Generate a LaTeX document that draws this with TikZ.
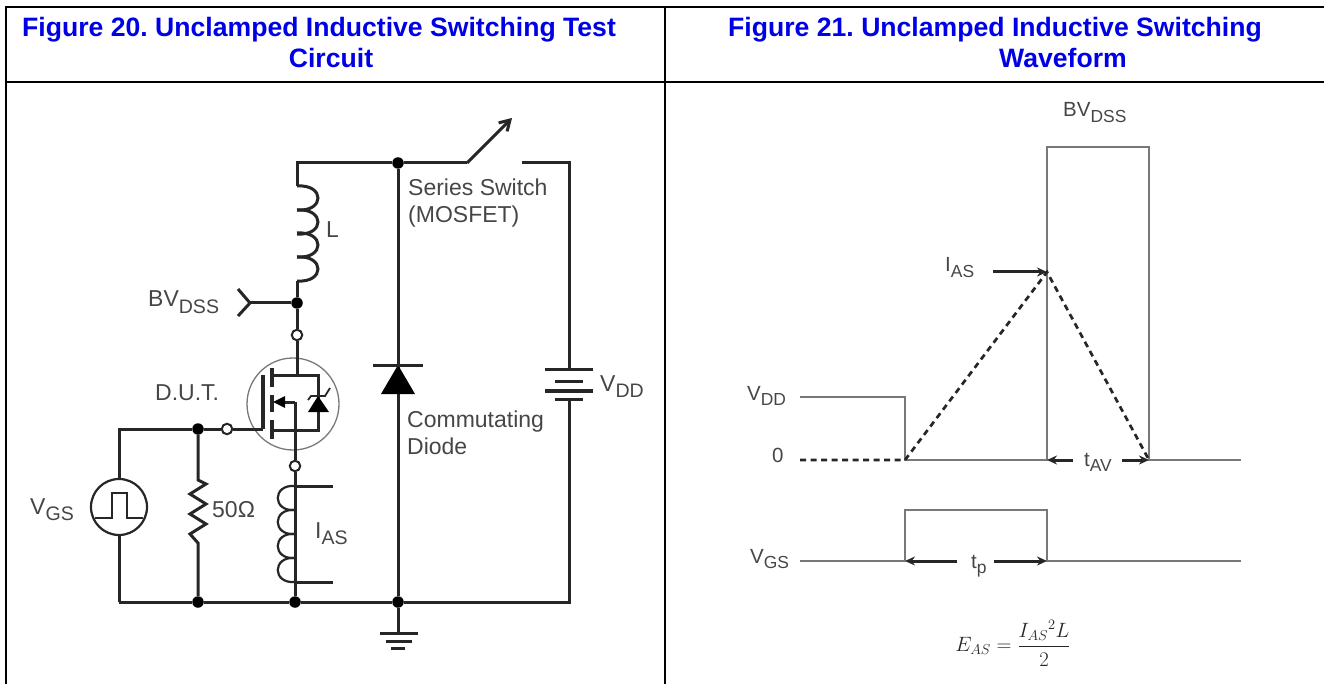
\documentclass[tikz,border=0pt]{standalone}
\usepackage{fontspec}
\setmainfont{Liberation Sans}
\usetikzlibrary{arrows.meta}
\frenchspacing
\definecolor{titleblue}{RGB}{0,0,230}
\definecolor{labelgray}{RGB}{70,70,70}
\definecolor{tracegray}{RGB}{120,120,120}
\newcommand{\lowtext}[2]{#1\raisebox{-0.28em}{\fontsize{0.85em}{1em}\selectfont #2}}
\tikzset{
	frameline/.style={line width=2.4pt, black},
	wire/.style={line width=3pt, black!85},
	trace/.style={line width=1.7pt, tracegray},
	dashtrace/.style={line width=2.7pt, black!85, dash pattern=on 6pt off 4.5pt},
	dimarrow/.style={line width=3pt, black!85, -{Stealth[length=10pt, width=9pt]}},
	junction/.style={circle, fill=black, inner sep=0pt, minimum size=11.5pt},
	openpin/.style={circle, draw=black!85, line width=2pt, fill=white, inner sep=0pt, minimum size=10.5pt},
	heading/.style={font=\bfseries\fontsize{26.6}{29}\selectfont, text=titleblue, anchor=base, inner sep=0pt},
	label/.style={font=\fontsize{23}{25}\selectfont, text=labelgray, anchor=base west, inner sep=0pt},
	wavelabel/.style={font=\fontsize{20.5}{22}\selectfont, text=labelgray, anchor=base west, inner sep=0pt}
}
\begin{document}
\begin{tikzpicture}[x=1pt, y=-1pt]
	\useasboundingbox (0,0) rectangle (1324,684);

	% Table frame
	\coordinate (frameTL) at (6,7);
	\coordinate (frameTR) at (1324,7);
	\coordinate (frameBL) at (6,684);
	\coordinate (rowL) at (6,82);
	\coordinate (rowR) at (1324,82);
	\coordinate (midT) at (665,7);
	\coordinate (midB) at (665,684);
	\draw[frameline] (frameBL) -- (frameTL) -- (frameTR);
	\draw[frameline] (rowL) -- (rowR);
	\draw[frameline] (midT) -- (midB);

	\node[heading] (title20) at (319,37) {Figure 20. Unclamped Inductive Switching Test};
	\node[heading] (title20b) at (331,68) {Circuit};
	\node[heading] (title21) at (995,37) {Figure 21. Unclamped Inductive Switching};
	\node[heading] (title21b) at (1063,68) {Waveform};

	% Junctions and pins of the circuit
	\node[junction] (topdot) at (398,163) {};
	\node[junction] (bvdot) at (297,303) {};
	\node[junction] (gatedot) at (198,429) {};
	\node[junction] (botdotR) at (198,602) {};
	\node[junction] (botdotL) at (295,602) {};
	\node[junction] (botdotD) at (398,602) {};
	\node[openpin] (drainpin) at (297,335) {};
	\node[openpin] (gatepin) at (227,429) {};
	\node[openpin] (sourcepin) at (295,466) {};

	\coordinate (topleft) at (297,163);
	\coordinate (coiltop) at (297,186);
	\coordinate (coilbot) at (297,281);
	\coordinate (hinge) at (467,163);
	\coordinate (swtip) at (512,118);
	\coordinate (contact) at (522,163);
	\coordinate (topright) at (569,163);
	\coordinate (batttop) at (569,369);
	\coordinate (battbot) at (569,399);
	\coordinate (botright) at (569,602);
	\coordinate (botleft) at (119,602);
	\coordinate (gateleft) at (119,429);
	\coordinate (gatebar) at (263,429);

	% Top rail, switch and supply
	\draw[wire] (coiltop) -- (topleft) -- (topdot) -- (hinge);
	\draw[wire, -{Straight Barb[length=10pt, width=12pt]}] (hinge) -- (swtip);
	\draw[wire] (contact) -- (topright) -- (batttop);
	\draw[wire] (battbot) -- (botright) -- (botdotD);
	\draw[wire] (botdotD) -- (botdotL) -- (botdotR) -- (botleft);
	\draw[wire] (topdot) -- (botdotD);

	% Battery
	\draw[wire] (545,369) -- (593,369);
	\draw[wire] (555,381) -- (583,381);
	\draw[wire, line width=4pt] (545,391) -- (593,391);
	\draw[wire] (555,399) -- (583,399);

	% Commutating diode
	\fill[black] (398,365) -- (415,394) -- (381,394) -- cycle;
	\draw[wire] (373,365) -- (423,365);

	% Inductor L
	\foreach \y in {186,210,233,257} {
		\draw[wire] (297,\y) .. controls (325,\y-2) and (325,\y+26) .. (297,\y+24);
	}
	\draw[wire] (coilbot) -- (bvdot) -- (drainpin);

	% BVDSS probe
	\coordinate (probe) at (250,303);
	\draw[wire] (bvdot) -- (probe);
	\draw[wire] (238,289) -- (probe) -- (238,316);

	% MOSFET
	\node[circle, draw=tracegray, line width=1.3pt, minimum size=92pt, inner sep=0pt] (dutring) at (293,404) {};
	\draw[wire] (drainpin) -- (297,375);
	\draw[wire] (273,375) -- (318,375) -- (318,430) -- (273,430);
	\draw[wire, line width=3.4pt] (263,375) -- (263,429);
	\draw[wire, line width=3.4pt] (272,368) -- (272,387);
	\draw[wire, line width=3.4pt] (272,395) -- (272,412);
	\draw[wire, line width=3.4pt] (272,420) -- (272,439);
	\draw[wire] (295,402) -- (283,402);
	\fill[black] (273,402) -- (285,396) -- (285,408) -- cycle;

	% Body diode
	\fill[black] (318,396) -- (329,412) -- (308,412) -- cycle;
	\draw[wire, line width=1.8pt] (308,400) -- (311,396) -- (325,396) -- (330,388);

	% Gate and source wires
	\draw[wire] (botleft) -- (119,535);
	\draw[wire] (119,480) -- (gateleft) -- (gatedot) -- (gatepin) -- (gatebar);
	\draw[wire] (295,402) -- (sourcepin) -- (botdotL);

	% VGS source
	\node[circle, draw=black!85, line width=2.2pt, minimum size=56pt, inner sep=0pt] (vgssrc) at (119,507) {};
	\draw[wire, line width=2.2pt] (95,518) -- (112,518) -- (112,493) -- (127,493) -- (127,518) -- (143,518);

	% 50 ohm resistor
	\draw[wire] (gatedot) -- (198,480) -- (206,484) -- (190,494) -- (206,504) -- (190,514) -- (206,524) -- (190,534) -- (198,543) -- (botdotR);

	% Current transformer
	\foreach \y in {486,510,534,558} {
		\draw[wire, line width=2.2pt] (295,\y) .. controls (272,\y-2) and (272,\y+26) .. (295,\y+24);
	}
	\draw[wire] (333,486) -- (295,486);
	\draw[wire] (333,582) -- (295,582);

	% Circuit labels
	\node[label] (bvdssA) at (148,307) {\lowtext{BV}{DSS}};
	\node[label] (dut) at (155,400) {D.U.T.};
	\node[label] (inductL) at (326,238) {L};
	\node[label] (vgsA) at (30,514) {\lowtext{V}{GS}};
	\node[label] (ohms) at (212,517) {50Ω};
	\node[label] (iasA) at (315,538) {\lowtext{I}{AS}};
	\node[label] (vddA) at (600,391) {\lowtext{V}{DD}};
	\node[label] (switchA) at (408,196) {Series Switch};
	\node[label] (switchB) at (408,223) {(MOSFET)};
	\node[label] (diodeA) at (407,427) {Commutating};
	\node[label] (diodeB) at (407,454) {Diode};

	% Ground
	\draw[wire] (botdotD) -- (398,632);
	\draw[wire] (380,633) -- (418,633);
	\draw[wire] (386,641) -- (412,641);
	\draw[wire] (391,648) -- (405,648);

	% Waveform
	\coordinate (vddstart) at (800,397);
	\coordinate (vddfall) at (905,397);
	\coordinate (zero) at (905,460);
	\coordinate (zerostart) at (800,460);
	\coordinate (rise) at (1047,147);
	\coordinate (fall) at (1149,147);
	\coordinate (apex) at (1047,272);
	\coordinate (riseB) at (1047,460);
	\coordinate (fallB) at (1149,460);
	\coordinate (zeroend) at (1241,460);
	\draw[trace] (vddstart) -- (vddfall) -- (zero) -- (riseB) -- (rise) -- (fall) -- (fallB) -- (zeroend);
	\draw[dashtrace] (zerostart) -- (zero) -- (apex) -- (fallB);

	% Gate pulse
	\coordinate (gsstart) at (800,561);
	\coordinate (gsrise) at (905,561);
	\coordinate (gstopA) at (905,510);
	\coordinate (gstopB) at (1047,510);
	\coordinate (gsfall) at (1047,561);
	\coordinate (gsend) at (1241,561);
	\draw[trace] (gsstart) -- (gsrise) -- (gstopA) -- (gstopB) -- (gsfall) -- (gsend);

	% Time spans
	\coordinate (iasfoot) at (993,272);
	\draw[dimarrow] (iasfoot) -- (apex);
	\coordinate (avL) at (1073,460);
	\coordinate (avR) at (1122,460);
	\draw[dimarrow] (avL) -- (riseB);
	\draw[dimarrow] (avR) -- (fallB);
	\coordinate (tpL) at (957,561);
	\coordinate (tpR) at (994,561);
	\draw[dimarrow] (tpL) -- (gsrise);
	\draw[dimarrow] (tpR) -- (gsfall);

	% Waveform labels
	\node[wavelabel] (bvdssB) at (1063,117) {\lowtext{BV}{DSS}};
	\node[wavelabel] (iasB) at (945,272) {\lowtext{I}{AS}};
	\node[wavelabel] (vddB) at (747,400) {\lowtext{V}{DD}};
	\node[wavelabel] (zerolabel) at (772,462) {0};
	\node[wavelabel] (tav) at (1084,466) {\lowtext{t}{AV}};
	\node[wavelabel] (vgsB) at (750,563) {\lowtext{V}{GS}};
	\node[wavelabel] (tp) at (971,568) {\lowtext{t}{p}};
	\node[text=black!85, font=\fontsize{22}{24}\selectfont, inner sep=0pt] (energy) at (1013,643) {$E_{AS}=\displaystyle\frac{{I_{AS}}^{2}L}{2}$};
\end{tikzpicture}
\end{document}
